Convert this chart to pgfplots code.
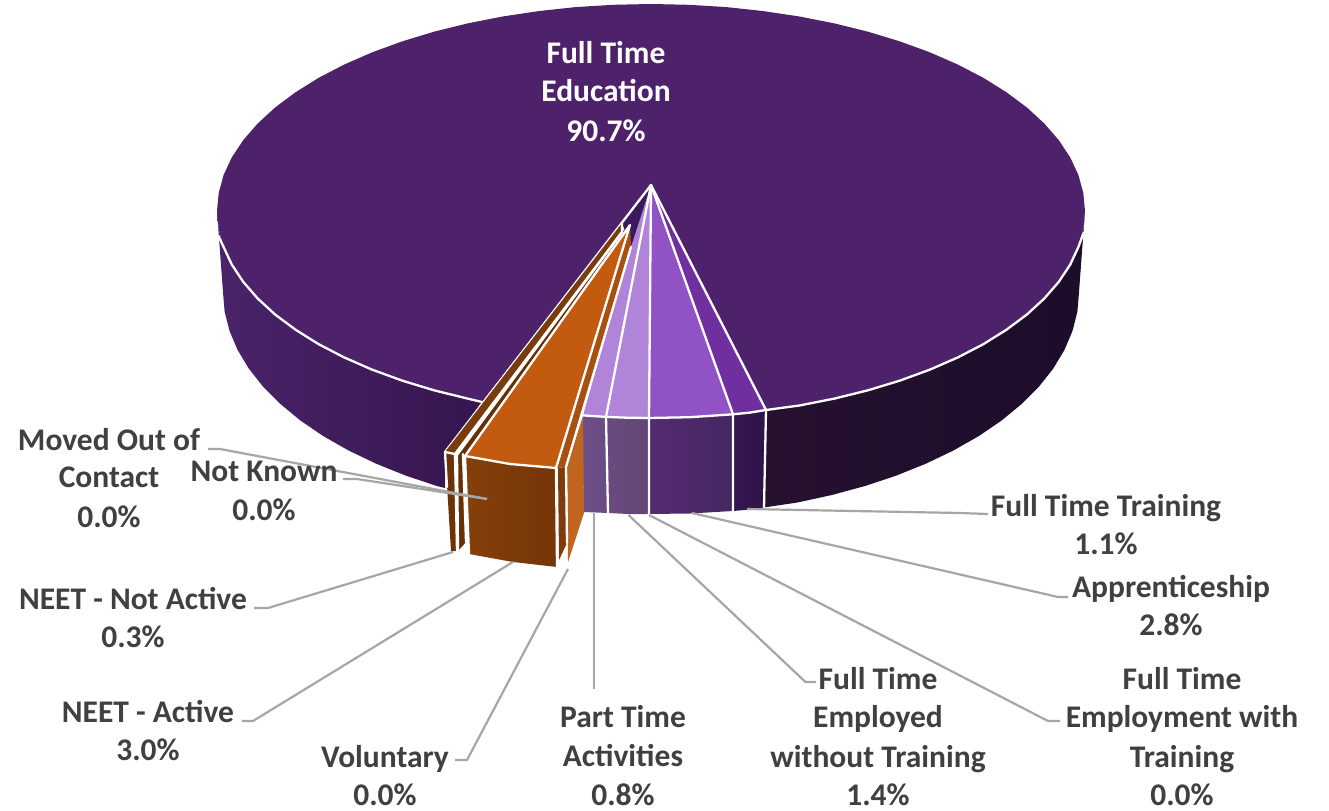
\documentclass[border=0pt]{standalone}
\usepackage{fontspec}
\setmainfont{Carlito}
\usepackage{pgfplots}
\pgfplotsset{compat=1.18}
\definecolor{topP}{HTML}{4E216B}
\definecolor{lab}{HTML}{404040}
\definecolor{lead}{HTML}{A6A6A6}
\definecolor{aL}{HTML}{4A2369}\definecolor{aR}{HTML}{35164F}
\definecolor{bL}{HTML}{26112F}\definecolor{bR}{HTML}{1C0D2A}
\definecolor{cL}{HTML}{6E4F88}\definecolor{cR}{HTML}{6A4C84}
\definecolor{dL}{HTML}{6A4B82}\definecolor{dR}{HTML}{624571}
\definecolor{eL}{HTML}{552A72}\definecolor{eR}{HTML}{452860}
\definecolor{fL}{HTML}{371650}\definecolor{fR}{HTML}{30134A}
\definecolor{gL}{HTML}{85400A}\definecolor{gR}{HTML}{763508}
\definecolor{wA}{RGB}{112,47,159}
\definecolor{wB}{RGB}{145,82,197}
\definecolor{wC}{RGB}{176,132,217}
\definecolor{wD}{RGB}{58,26,92}
\definecolor{oA}{RGB}{192,101,32}
\definecolor{oB}{RGB}{109,51,7}
\definecolor{oC}{RGB}{102,48,6}
\definecolor{oD}{RGB}{127,60,10}
\definecolor{oE}{RGB}{122,60,12}
\definecolor{oF}{RGB}{168,80,15}
\definecolor{oG}{RGB}{194,90,15}
\newcommand\lab[3]{\node[text=lab,inner sep=0pt,anchor=center,yshift=-2pt,font=\fontsize{31.5}{33}\selectfont\bfseries] at (axis cs:#1,#2) {\vphantom{Hgp}#3};}
\newcommand\wlab[3]{\node[text=white,inner sep=0pt,anchor=center,yshift=-2pt,font=\fontsize{31.5}{33}\selectfont\bfseries] at (axis cs:#1,#2) {\vphantom{Hgp}#3};}
\pgfplotsset{
  wl/.style={draw=white,line width=2.3pt,line join=round,line cap=round,forget plot},
  fc/.style={draw=none,fill=#1,forget plot},
  gr/.style 2 args={draw=none,left color=#1,right color=#2,forget plot},
  ld/.style={draw=lead,line width=2.2pt,line join=round,forget plot},
}
\begin{document}
\begin{tikzpicture}
\begin{axis}[
  scale only axis,width=1329pt,height=810pt,
  xmin=0,xmax=1329,ymin=0,ymax=810,y dir=reverse,
  hide axis,clip=false,no markers,
]
\addplot[fc=white] coordinates {(0,0)(1329,0)(1329,810)(0,810)} --cycle;
% left outer side of the big slice
\addplot[gr={aL}{aR}] coordinates {(217,211)(218.7,229)(223.6,247)(231.8,264.6)(243.2,281.8)(257.7,298.5)(275.1,314.5)(295.5,329.7)(318.5,344.1)(344.1,357.4)(372,369.6)(402.1,380.6)(434,390.3)(482,402)(445,452)(445,488)(437,486)(405.5,475.5)(375.9,463.6)(348.4,450.4)(323.1,436)(300.4,420.5)(280.4,404)(263.1,386.7)(248.8,368.6)(237.6,350)(229.5,330.9)(224.6,311.5)(223,292)} --cycle;
% right outer side of the big slice
\addplot[gr={bL}{bR}] coordinates {(766,410)(799.4,405.5)(834.4,398.6)(868,390.3)(899.9,380.6)(930,369.6)(957.9,357.4)(983.5,344.1)(1006.5,329.7)(1026.9,314.5)(1044.3,298.5)(1058.8,281.8)(1070.2,264.6)(1078.4,247)(1083.3,229)(1085,211)(1079,292)(1077.4,311.5)(1072.5,330.9)(1064.4,350)(1053.2,368.6)(1038.9,386.7)(1021.6,404)(1001.6,420.5)(978.9,436)(953.6,450.4)(926.1,463.6)(896.5,475.5)(865,486)(831.9,495)(797.4,502.5)(764,507.5)} --cycle;
% central side faces
\addplot[gr={cL}{cR}] coordinates {(583,415.4)(606,416.9)(608,513)(584,512)} --cycle;
\addplot[gr={dL}{dR}] coordinates {(606,416.9)(627,417.7)(649,418)(649,514)(628,514)(608,513)} --cycle;
\addplot[gr={eL}{eR}] coordinates {(649,418)(690,417.2)(733,414.3)(733,511)(690,513.5)(649,514)} --cycle;
\addplot[gr={fL}{fR}] coordinates {(733,414.3)(750,412.6)(766,410)(764,507.5)(750,509.5)(733,511)} --cycle;
% big top face
\addplot[fc=topP] coordinates {(651,185)(766,410)(799.4,405.5)(834.4,398.6)(868,390.3)(899.9,380.6)(930,369.6)(957.9,357.4)(983.5,344.1)(1006.5,329.7)(1026.9,314.5)(1044.3,298.5)(1058.8,281.8)(1070.2,264.6)(1078.4,247)(1083.3,229)(1085,211)(1083.3,193)(1078.4,175)(1070.2,157.4)(1058.8,140.2)(1044.3,123.5)(1026.9,107.5)(1006.5,92.3)(983.5,77.9)(957.9,64.6)(930,52.4)(899.9,41.4)(868,31.7)(834.4,23.4)(799.4,16.5)(763.3,11.1)(726.4,7.1)(688.8,4.8)(651,4)(613.2,4.8)(575.6,7.1)(538.7,11.1)(502.6,16.5)(467.6,23.4)(434,31.7)(402.1,41.4)(372,52.4)(344.1,64.6)(318.5,77.9)(295.5,92.3)(275.1,107.5)(257.7,123.5)(243.2,140.2)(231.8,157.4)(223.6,175)(218.7,193)(217,211)(218.7,229)(223.6,247)(231.8,264.6)(243.2,281.8)(257.7,298.5)(275.1,314.5)(295.5,329.7)(318.5,344.1)(344.1,357.4)(372,369.6)(402.1,380.6)(434,390.3)(467.6,398.6)(482,402)} --cycle;
% central top faces
\addplot[fc=wA] coordinates {(651,185)(766,410)(750,412.6)(733,414.3)} --cycle;
\addplot[fc=wB] coordinates {(651,185)(733,414.3)(690,417.2)(649,418)} --cycle;
\addplot[fc=wC] coordinates {(651,185)(649,418)(627,417.7)(606,416.9)} --cycle;
\addplot[fc=wC] coordinates {(651,185)(606,416.9)(583,415.4)(631,247)} --cycle;
% inner dark triangle by the centre
\addplot[fc=wD] coordinates {(651,185)(622,223)(631,247)} --cycle;
% white lines of the central part
\addplot[wl] coordinates {(482,402)(467.6,398.6)(434,390.3)(402.1,380.6)(372,369.6)(344.1,357.4)(318.5,344.1)(295.5,329.7)(275.1,314.5)(257.7,298.5)(243.2,281.8)(231.8,264.6)(223.6,247)(218.5,236)};
\addplot[wl] coordinates {(1083.5,233)(1078.4,247)(1070.2,264.6)(1058.8,281.8)(1044.3,298.5)(1026.9,314.5)(1006.5,329.7)(983.5,344.1)(957.9,357.4)(930,369.6)(899.9,380.6)(868,390.3)(834.4,398.6)(799.4,405.5)(766,410)(750,412.6)(733,414.3)(690,417.2)(649,418)(627,417.7)(606,416.9)(583,415.4)};
\addplot[wl] coordinates {(651,185)(766,410)(764,507.5)};
\addplot[wl] coordinates {(651,185)(733,414.3)(733,511)};
\addplot[wl] coordinates {(651,185)(649,418)(649,514)};
\addplot[wl] coordinates {(651,185)(606,416.9)(608,513)};
\addplot[wl] coordinates {(651,185)(445,452)};
% inner orange face
\addplot[fc=oA] coordinates {(567,465)(583,416)(584,513)(568,562)} --cycle;
% narrow brown side faces
\addplot[fc=oB] coordinates {(445,452)(454,453)(457,551)(451,551)} --cycle;
\addplot[fc=oC] coordinates {(457,454)(463,454)(466,542)(458,551)} --cycle;
\addplot[fc=oD] coordinates {(558,468)(565,467)(567,543)(559,560)} --cycle;
% narrow top faces
\addplot[fc=oE] coordinates {(445,452)(455,454)(622,232)(622,223)} --cycle;
\addplot[fc=oC] coordinates {(457,455)(465,456)(630,225)(622,232)} --cycle;
% main orange top and side
\addplot[fc=oF] coordinates {(630,225)(631,247)(566,467)(557,468)} --cycle;
\addplot[fc=oG] coordinates {(630,225)(556,468)(510,464)(465,456)} --cycle;
\addplot[gr={gL}{gR}] coordinates {(465,457)(510,464)(556,468)(557,567)(513,562)(469,554)} --cycle;
% white edges of the orange and brown pieces
\addplot[wl] coordinates {(630,225)(465,456)(510,464)(556,468)(630,225)};
\addplot[wl] coordinates {(631,247)(566,467)(567,543)};
\addplot[wl] coordinates {(465,456)(469,554)};
\addplot[wl] coordinates {(556,468)(557,567)};
\addplot[wl] coordinates {(622,223)(622,232)(455,454)(457,551)};
\addplot[wl] coordinates {(622,232)(457,455)(458,551)};
\addplot[wl] coordinates {(445,452)(455,454)};
\addplot[wl] coordinates {(445,452)(447,487)};
\addplot[wl] coordinates {(463,454)(466,542)};
% leader lines
\addplot[ld] coordinates {(208,449)(220,449)(487,499)};
\addplot[ld] coordinates {(343,479)(357,479)(487,499)};
\addplot[ld] coordinates {(254,608)(268,608)(453,552)};
\addplot[ld] coordinates {(242,721)(253,721)(513,562)};
\addplot[ld] coordinates {(455,760)(467,760)(568,569)};
\addplot[ld] coordinates {(594,513)(594,689)};
\addplot[ld] coordinates {(628.5,515)(805.5,682)(816,682)};
\addplot[ld] coordinates {(649,515)(1048,721)(1060,721)};
\addplot[ld] coordinates {(692,513)(1058,597)(1068,597)};
\addplot[ld] coordinates {(747,509)(960,513)(988,514)};
% labels
\wlab{606}{53}{Full Time}
\wlab{606}{91}{Education}
\wlab{606}{131}{90.7\%}
\lab{109}{440}{Moved Out of}
\lab{109}{478}{Contact}
\lab{109}{517}{0.0\%}
\lab{264}{472}{Not Known}
\lab{264}{510}{0.0\%}
\lab{133}{599}{NEET - Not Active}
\lab{133}{637}{0.3\%}
\lab{148}{712}{NEET - Active}
\lab{148}{750}{3.0\%}
\lab{385}{757}{Voluntary}
\lab{385}{795}{0.0\%}
\lab{623}{717}{Part Time}
\lab{623}{756}{Activities}
\lab{623}{795}{0.8\%}
\lab{878}{679}{Full Time}
\lab{878}{717}{Employed}
\lab{878}{757}{without Training}
\lab{878}{795}{1.4\%}
\lab{1182}{679}{Full Time}
\lab{1182}{717}{Employment with}
\lab{1182}{757}{Training}
\lab{1182}{795}{0.0\%}
\lab{1171}{587}{Apprenticeship}
\lab{1171}{625}{2.8\%}
\lab{1106}{506}{Full Time Training}
\lab{1106}{544}{1.1\%}
\end{axis}
\end{tikzpicture}
\end{document}
